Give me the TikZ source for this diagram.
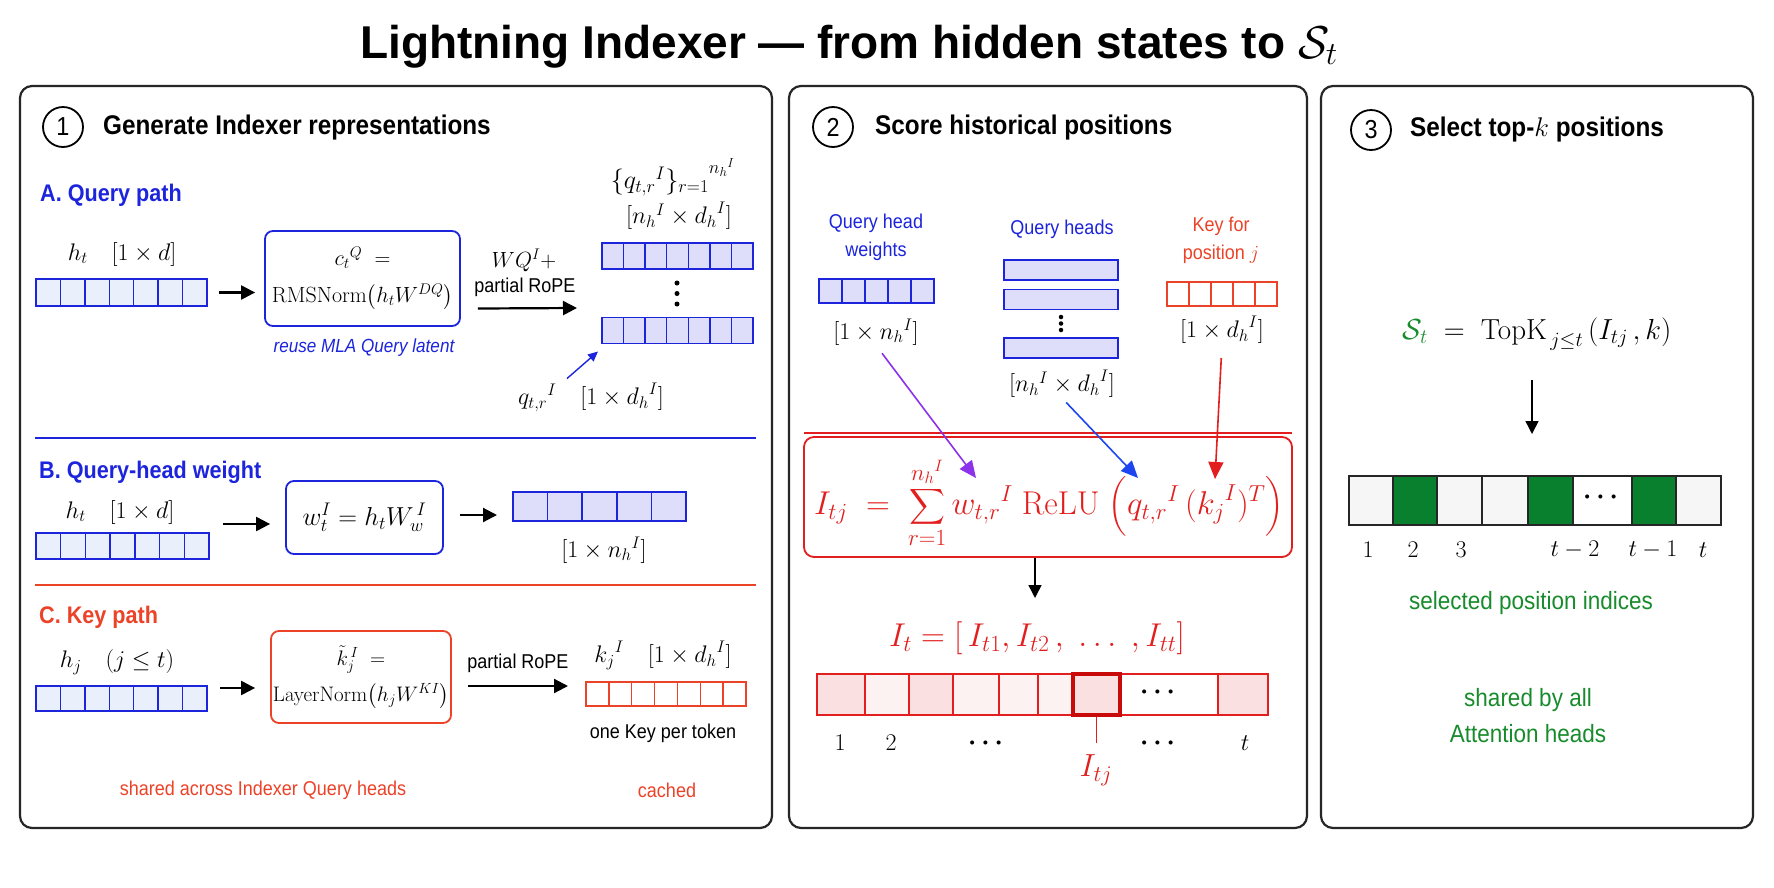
\RequirePackage{fix-cm}
\documentclass[tikz,border=0pt]{standalone}
\usepackage{amsmath}
\usepackage[no-math]{fontspec}
\setmainfont{Liberation Sans}[FakeStretch=0.9]
\newfontfamily\titlefont{Liberation Sans}
\usetikzlibrary{arrows.meta,calc}
\definecolor{qblue}{RGB}{28,36,220}
\definecolor{lblue}{RGB}{234,239,252}
\definecolor{lav}{RGB}{222,222,250}
\definecolor{kred}{RGB}{236,66,40}
\definecolor{fred}{RGB}{226,30,30}
\definecolor{pinkA}{RGB}{250,224,224}
\definecolor{pinkB}{RGB}{253,242,242}
\definecolor{hlred}{RGB}{200,10,10}
\definecolor{gcell}{RGB}{8,128,46}
\definecolor{gtext}{RGB}{24,140,44}
\definecolor{parr}{RGB}{140,50,235}
\definecolor{barr}{RGB}{30,70,240}
\definecolor{lgray}{RGB}{246,246,246}
\newcommand\fsz[2]{\fontsize{#1}{#2}\selectfont}
\newcommand\cellrow[8]{%
  \node[rowbox, draw=#7, fill=#8, minimum width=#4pt, minimum height=#5pt] (#1) at (#2,#3) {};
  \foreach \k in {1,...,#6}{%
    \pgfmathsetmacro\fr{\k/(#6+1)}%
    \draw[draw=#7, line width=1.5pt] ($(#1.north west)!\fr!(#1.north east)$) -- ($(#1.south west)!\fr!(#1.south east)$);}%
}
\begin{document}
\begin{tikzpicture}[x=1pt,y=-1pt,
  panel/.style={draw=black!85, line width=2.2pt, rounded corners=12pt, fill=white, inner sep=0pt},
  numc/.style={circle, draw=black, line width=1.8pt, minimum size=40pt, inner sep=0pt, font=\fsz{26}{30}},
  head/.style={anchor=west, inner sep=0pt, font=\fsz{27}{32}\bfseries},
  sec/.style={anchor=west, inner sep=0pt, font=\fsz{24}{29}\bfseries},
  lab/.style={inner sep=0pt, font=\fsz{24}{29}},
  small/.style={inner sep=0pt, font=\fsz{20}{28}},
  rowbox/.style={line width=1.5pt, inner sep=0pt, outer sep=0pt},
  abox/.style={rounded corners=8pt, line width=1.8pt, align=center, inner sep=0pt, fill=white},
  bar/.style={draw=qblue, fill=lav, line width=1.5pt, minimum width=114pt, minimum height=20pt, inner sep=0pt},
  dot/.style={circle, fill=black, inner sep=0pt, minimum size=5pt},
  arr/.style={line width=2.2pt, -{Triangle[length=14pt,width=14pt]}},
  thin arr/.style={line width=1.5pt, -{Triangle[length=13pt,width=13pt]}},
  carr/.style={line width=1.6pt, -{Triangle[length=17pt,width=15pt]}}]
\useasboundingbox (0,0) rectangle (1774,887);
\fill[white] (0,0) rectangle (1774,887);

% title
\node[anchor=base, inner sep=0pt, font=\titlefont\fsz{46}{55}\bfseries] (title) at (849,58) {Lightning Indexer — from hidden states to $\mathcal{S}_t$};

% panels
\node[panel, minimum width=752pt, minimum height=742pt] (p1) at (396,457) {};
\node[panel, minimum width=518pt, minimum height=742pt] (p2) at (1048,457) {};
\node[panel, minimum width=432pt, minimum height=742pt] (p3) at (1537,457) {};

% ---------- panel 1 ----------
\node[numc] (c1) at (63,127) {1};
\node[head] (h1) at (103,128) {Generate Indexer representations};

\node[sec, text=qblue] (secA) at (40,195) {A. Query path};
\node[lab] (htA) at (122,254) {$h_t\quad[1\times d]$};
\cellrow{hA}{121.5}{292.5}{171}{27}{6}{qblue}{lblue}
\node[abox, draw=qblue, minimum width=195pt, minimum height=95pt, font=\fsz{22}{37}] (boxA) at (362.5,278.5) {${c_t}^{Q}\;=$\\$\mathrm{RMSNorm}\bigl(h_tW^{DQ}\bigr)$};
\node[small, text=qblue, font=\fsz{19}{24}\itshape] (reuse) at (364,348) {reuse MLA Query latent};
\node[lab, font=\fsz{22}{27}] (wq) at (524,260) {$WQ^{I}+$};
\node[small] (rope1) at (525,287) {partial RoPE};
\cellrow{qtop}{677.5}{256}{151}{26}{6}{qblue}{lav}
\cellrow{qbot}{677.5}{330.5}{151}{26}{6}{qblue}{lav}
\node[dot] (qd1) at (677,283) {};
\node[dot] (qd2) at (677,293.5) {};
\node[dot] (qd3) at (677,304) {};
\node[lab, font=\fsz{26}{30}] (qset) at (673,177) {${\{{q_{t,r}}^{I}\}_{r=1}}^{{n_h}^{I}}$};
\node[lab] (qdim) at (679,216) {$[{n_h}^{I}\times {d_h}^{I}]$};
\node[lab] (qlab) at (591,397) {${q_{t,r}}^{I}\quad[1\times {d_h}^{I}]$};
\draw[arr, shorten <=12pt, shorten >=9pt] (hA.east) -- (hA.east -| boxA.west);
\draw[arr] ([shift={(17,30)}]boxA.east) -- ([shift={(-25,-22.5)}]qbot.west);
\draw[qblue, line width=1.4pt, -{Triangle[length=10pt,width=9pt]}] ([shift={(-35,35)}]qbot.south west) -- ([shift={(-4,8)}]qbot.south west);

\draw[qblue, line width=1.6pt] (35,438) -- (756,438);

\node[sec, text=qblue] (secB) at (39,472) {B. Query-head weight};
\node[lab] (htB) at (120,512) {$h_t\quad[1\times d]$};
\cellrow{hB}{122.5}{546}{173}{26}{6}{qblue}{lblue}
\node[abox, draw=qblue, minimum width=157pt, minimum height=73pt, font=\fsz{26}{30}] (boxB) at (364.5,517.5) {$w_t^{I} = h_tW_w^{\,I}$};
\cellrow{outB}{599.5}{506.5}{173}{29}{4}{qblue}{lav}
\node[lab] (outBd) at (604,550) {$[1\times {n_h}^{I}]$};
\draw[arr] ([shift={(14,-22)}]hB.east) -- ([shift={(-15,6.5)}]boxB.west);
\draw[arr] ([shift={(16,-2.5)}]boxB.east) -- ([shift={(-16,8.5)}]outB.west);

\draw[kred, line width=1.6pt] (35,585) -- (756,585);

\node[sec, text=kred] (secC) at (39,617) {C. Key path};
\node[lab] (hjC) at (117,662) {$h_j\quad(j\le t)$};
\cellrow{hC}{121.5}{698.5}{171}{25}{6}{qblue}{lblue}
\node[abox, draw=kred, minimum width=180pt, minimum height=92pt, font=\fsz{21}{36}] (boxC) at (361,677) {${\tilde{k}_j}^{\,I}\;=$\\$\mathrm{LayerNorm}\bigl(h_jW^{KI}\bigr)$};
\node[small] (rope2) at (518,663) {partial RoPE};
\node[lab] (kjlab) at (663,655) {${k_j}^{I}\quad[1\times {d_h}^{I}]$};
\cellrow{kC}{666}{694}{160}{24}{6}{kred}{white}
\node[small] (onek) at (663,733) {one Key per token};
\node[small, text=kred] (shared) at (263,790) {shared across Indexer Query heads};
\node[small, text=kred] (cached) at (667,790) {cached};
\draw[arr] ([shift={(13,-10.5)}]hC.east) -- ([shift={(-15,11)}]boxC.west);
\draw[arr] ([shift={(16,9)}]boxC.east) -- ([shift={(-18,-8)}]kC.west);

% ---------- panel 2 ----------
\node[numc] (c2) at (833,127) {2};
\node[head] (h2) at (875,128) {Score historical positions};
\node[small, text=qblue, align=center] (qhw) at (876,237) {Query head\\weights};
\cellrow{wrow}{876.5}{291}{115}{24}{4}{qblue}{lav}
\node[lab] (wdim) at (876,332) {$[1\times {n_h}^{I}]$};
\node[small, text=qblue] (qhl) at (1062,229) {Query heads};
\node[bar] (bar1) at (1061,270) {};
\node[bar] (bar2) at (1061,299.5) {};
\node[bar] (bar3) at (1061,348) {};
\node[dot, minimum size=4.5pt] (bd1) at (1061,317) {};
\node[dot, minimum size=4.5pt] (bd2) at (1061,323.5) {};
\node[dot, minimum size=4.5pt] (bd3) at (1061,330) {};
\node[lab] (hdim) at (1062,384) {$[{n_h}^{I}\times {d_h}^{I}]$};
\node[small, text=kred, align=center] (kfp) at (1221,240) {Key for\\position $j$};
\cellrow{krow}{1222}{294}{110}{24}{4}{kred}{white}
\node[lab] (kdim) at (1222,330) {$[1\times {d_h}^{I}]$};

\draw[fred, line width=1.6pt] (804,433) -- (1292,433);
\node[draw=fred, line width=1.8pt, rounded corners=10pt, fill=white, minimum width=488pt, minimum height=120pt, inner sep=0pt] (fbox) at (1048,497) {};
\node[inner sep=0pt, text=fred, font=\fsz{33}{38}] (formula) at (1049,503) {$\displaystyle I_{tj} \;=\; \sum_{r=1}^{{n_h}^{I}} {w_{t,r}}^{I}\;\mathrm{ReLU}\;\Bigl({q_{t,r}}^{I}\,({k_j}^{I})^{T}\Bigr)$};
\coordinate (pw) at (976,478);
\coordinate (pq) at (1138,478);
\coordinate (pk) at (1215,479);
\draw[carr, parr, shorten <=10pt] (wdim.south) -- (pw);
\draw[carr, barr, shorten <=6pt] (hdim.south) -- (pq);
\draw[carr, fred, shorten <=14pt] (kdim.south) -- (pk);

\node[lab, text=fred, font=\fsz{33}{38}] (itlab) at (1037,638) {$I_t = [\,I_{t1}, I_{t2}\,,\;\dots\;, I_{tt}]$};
\draw[thin arr] (fbox.south -| 1035,0) -- (1035,598);
\node[minimum width=451pt, minimum height=41pt, inner sep=0pt] (itrow) at (1042.5,694.5) {};
\foreach \a/\b/\f in {817/865/pinkA, 865/909/pinkB, 909/953/pinkA, 953/999/pinkB, 999/1038/pinkB, 1038/1073/pinkB, 1120/1218/white, 1218/1268/pinkA}
  \draw[fred, line width=1.5pt, fill=\f] (\a,674) rectangle (\b,715);
\node[draw=hlred, line width=3.5pt, fill=pinkA, minimum width=47pt, minimum height=41pt, inner sep=0pt] (hl) at (1096.5,694.5) {};
\node[lab, font=\fsz{26}{30}] (itdots) at (1160,692) {$\boldsymbol{\cdots}$};
\node[lab] (n1) at (840,743) {$1$};
\node[lab] (n2) at (891,743) {$2$};
\node[lab, font=\fsz{26}{30}] (nd1) at (988,743) {$\boldsymbol{\cdots}$};
\node[lab, font=\fsz{26}{30}] (nd2) at (1160,743) {$\boldsymbol{\cdots}$};
\node[lab] (nt) at (1245,743) {$t$};
\node[lab, text=fred, font=\fsz{32}{36}] (itj) at (1096,770) {$I_{tj}$};
\draw[fred, line width=1.6pt] (hl.south) -- (hl.south |- 0,743);

% ---------- panel 3 ----------
\node[numc] (c3) at (1371,130) {3};
\node[head] (h3) at (1410,130) {Select top-$k$ positions};
\node[lab, font=\fsz{29}{34}] (topk) at (1537,334) {${\color{gtext}\mathcal{S}_t} \;=\; \mathrm{TopK}_{\,j\le t}\,(I_{tj}\,,k)$};
\draw[thin arr] (1532,380) -- (1532,434);
\node[draw=black!85, line width=2pt, minimum width=372pt, minimum height=49pt, inner sep=0pt] (selrow) at (1535,500.5) {};
\foreach \a/\b/\f in {1349/1393/lgray,1393/1437/gcell,1437/1482/lgray,1482/1528/lgray,1528/1573/gcell,1573/1632/white,1632/1676/gcell,1676/1721/lgray}
  \draw[black!85, line width=1.5pt, fill=\f] (\a,476) rectangle (\b,525);
\node[lab, font=\fsz{26}{30}] (sdots) at (1603,497) {$\boldsymbol{\cdots}$};
\node[lab] (s1) at (1368,550) {$1$};
\node[lab] (s2) at (1413,550) {$2$};
\node[lab] (s3) at (1461,550) {$3$};
\node[lab] (s4) at (1575,550) {$t-2$};
\node[lab] (s5) at (1653,550) {$t-1$};
\node[lab] (s6) at (1703,550) {$t$};
\node[inner sep=0pt, text=gtext, font=\fsz{25}{30}] (selidx) at (1531,603) {selected position indices};
\node[inner sep=0pt, text=gtext, font=\fsz{25}{36}, align=center] (sharedall) at (1528,716) {shared by all\\Attention heads};
\end{tikzpicture}
\end{document}
